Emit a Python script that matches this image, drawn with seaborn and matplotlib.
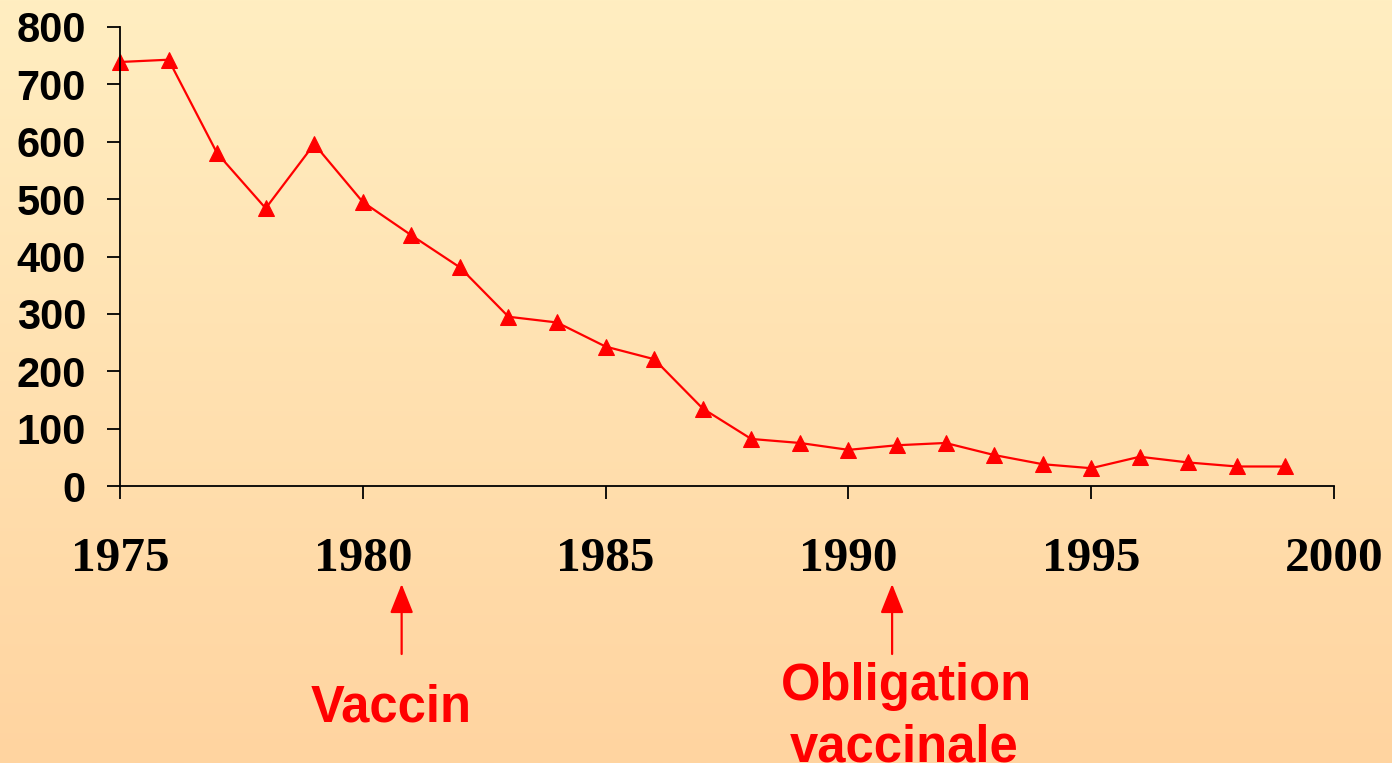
import numpy as np
import pandas as pd
import matplotlib
matplotlib.use("Agg")
import matplotlib.pyplot as plt
import matplotlib.transforms as mtransforms
import seaborn as sns

# ---- data ----
years = list(range(1975, 2000))
cases = [739, 743, 580, 484, 596, 495, 437, 381, 295, 285, 243, 221, 135,
         82, 75, 63, 71, 75, 54, 38, 31, 51, 41, 34, 34]
x_ticks = [1975, 1980, 1985, 1990, 1995, 2000]
y_ticks = [0, 100, 200, 300, 400, 500, 600, 700, 800]
annot_years = [1980.8, 1990.9]
vaccin_label = "Vaccin"
vaccin_text_x = 1980.58
oblig_lines = ["Obligation", "vaccinale"]
oblig_text_x = [1991.2, 1991.15]

df = pd.DataFrame({"year": years, "cases": cases})

sns.set_theme(style="ticks")
plt.rcParams["font.family"] = ["Liberation Sans", "DejaVu Sans"]

W, H = 1392, 763
fig = plt.figure(figsize=(W / 100, H / 100), dpi=100)

# gradient background
bg = fig.add_axes([0, 0, 1, 1], zorder=-10)
top = np.array([255, 238, 193]) / 255
bot = np.array([255, 212, 160]) / 255
t = np.linspace(0, 1, 256)[:, None]
grad = (top[None, :] * (1 - t) + bot[None, :] * t)[:, None, :]
bg.imshow(grad, aspect="auto", extent=[0, 1, 0, 1], origin="upper")
bg.set_axis_off()

ax = fig.add_axes([120 / W, 1 - 486 / H, (1334 - 120) / W, (486 - 27) / H])
ax.set_facecolor("none")

sns.lineplot(data=df, x="year", y="cases", ax=ax, color="#FF0000",
             linewidth=1.6, marker="^", markersize=11, markeredgecolor="#FF0000",
             markerfacecolor="#FF0000", clip_on=False)

ax.set_xlim(1975, 2000)
ax.set_ylim(0, 800)
ax.set_xticks(x_ticks)
ax.set_yticks(y_ticks)
ax.set_xlabel("")
ax.set_ylabel("")
for s in ["top", "right"]:
    ax.spines[s].set_visible(False)
for s in ["left", "bottom"]:
    ax.spines[s].set_color("black")
    ax.spines[s].set_linewidth(1.3)

ax.tick_params(axis="both", direction="out", length=9.5, width=1.3, color="black")
ax.tick_params(axis="x", pad=27)
ax.tick_params(axis="y", pad=15)
for lab in ax.get_xticklabels():
    lab.set_fontfamily("Liberation Serif")
    lab.set_fontweight("bold")
    lab.set_fontsize(35.5)
    lab.set_color("black")
for lab in ax.get_yticklabels():
    lab.set_fontfamily("Liberation Sans")
    lab.set_fontweight("bold")
    lab.set_fontsize(30)
    lab.set_color("black")

# annotations: x in data, y in figure fraction
trans = mtransforms.blended_transform_factory(ax.transData, fig.transFigure)
for yr in annot_years:
    ax.annotate("", xy=(yr, 1 - 584 / H), xytext=(yr, 1 - 654 / H),
                xycoords=trans, textcoords=trans,
                arrowprops=dict(arrowstyle="-|>,head_length=1.5,head_width=0.6",
                                color="#FF0000", lw=1.6, shrinkA=0, shrinkB=0),
                annotation_clip=False)

ax.text(vaccin_text_x, 1 - 722 / H, vaccin_label, transform=trans,
        ha="center", va="baseline", color="#FF0000", fontsize=36.5,
        fontweight="bold", family="Liberation Sans")
for line, xx, yb in zip(oblig_lines, oblig_text_x, [700, 761]):
    ax.text(xx, 1 - yb / H, line, transform=trans,
            ha="center", va="baseline", color="#FF0000", fontsize=36.5,
            fontweight="bold", family="Liberation Sans")

fig.savefig("out.png", dpi=100)
